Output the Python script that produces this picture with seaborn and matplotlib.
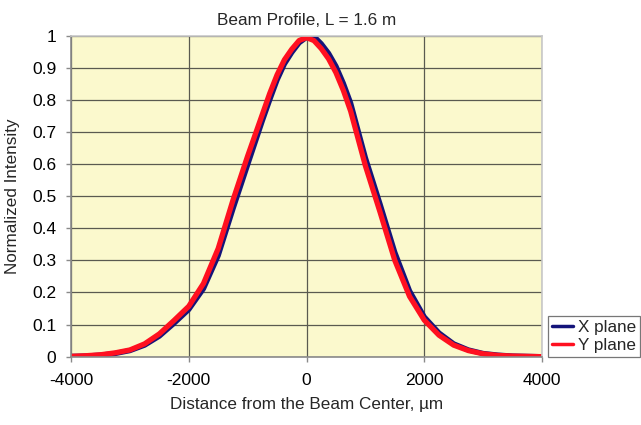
import matplotlib
matplotlib.use("Agg")
import matplotlib.pyplot as plt
import seaborn as sns
import pandas as pd

# distance from the beam center, um
distance = [-4000, -3750, -3500, -3250, -3000, -2750, -2500, -2250, -2000,
            -1750, -1500, -1250, -1000, -750, -625, -500, -375, -250, -125, 0, 125,
            250, 375, 500, 625, 750, 1000, 1250, 1500, 1750, 2000, 2250, 2500,
            2750, 3000, 3250, 3500, 3750, 4000]

x_plane = [0.001, 0.002, 0.005, 0.010, 0.019, 0.036, 0.064, 0.104, 0.147,
           0.212, 0.315, 0.460, 0.598, 0.735, 0.800, 0.862, 0.912, 0.948, 0.978, 0.995, 0.998,
           0.975, 0.945, 0.905, 0.852, 0.790, 0.620, 0.475, 0.325, 0.205, 0.124, 0.074, 0.040,
           0.021, 0.010, 0.005, 0.002, 0.001, 0.000]

y_plane = [0.001, 0.003, 0.006, 0.012, 0.021, 0.040, 0.071, 0.113, 0.157,
           0.228, 0.337, 0.487, 0.625, 0.755, 0.820, 0.878, 0.925, 0.958, 0.985, 0.994, 0.985,
           0.960, 0.928, 0.885, 0.830, 0.765, 0.595, 0.450, 0.300, 0.188, 0.114, 0.067, 0.036,
           0.019, 0.009, 0.004, 0.002, 0.001, 0.000]

series_names = ["X plane", "Y plane"]
colors = ["#14147a", "#ff1020"]

df = pd.concat([
    pd.DataFrame({"d": distance, "I": x_plane, "plane": series_names[0]}),
    pd.DataFrame({"d": distance, "I": y_plane, "plane": series_names[1]}),
])

sns.set_style("white")
plt.rcParams["font.family"] = ["Liberation Sans", "DejaVu Sans"]
plt.rcParams["axes.unicode_minus"] = False

fig = plt.figure(figsize=(6.41, 4.25), dpi=100)
ax = fig.add_axes([71 / 641, 1 - 356.7 / 425, (542 - 71) / 641, (356.7 - 35.7) / 425])
ax.set_facecolor("#fbf9cd")

sns.lineplot(data=df, x="d", y="I", hue="plane", palette=colors,
             linewidth=3.8, solid_joinstyle="round", solid_capstyle="round",
             ax=ax, legend=True)

ax.set_xlim(-4000, 4000)
ax.set_ylim(0, 1)
ax.set_xticks([-4000, -2000, 0, 2000, 4000])
ax.set_yticks([i / 10 for i in range(11)])
ax.set_yticklabels(["0", "0.1", "0.2", "0.3", "0.4", "0.5", "0.6", "0.7", "0.8", "0.9", "1"])
ax.grid(True, color="#5a5a50", linewidth=0.9)
ax.set_axisbelow(True)
for s in ["left", "bottom"]:
    ax.spines[s].set_color("#8a8a8a")
    ax.spines[s].set_linewidth(1.2)
for s in ["top", "right"]:
    ax.spines[s].set_color("#c8c8c8")
    ax.spines[s].set_linewidth(1.2)
ax.tick_params(axis="both", direction="out", length=3.5, width=1, color="#8a8a8a",
               labelsize=12.5, labelcolor="black", bottom=True, left=True)
ax.tick_params(axis="x", pad=8)
ax.tick_params(axis="y", pad=7)

ax.set_xlabel("Distance from the Beam Center, µm", fontsize=12.3, labelpad=7)
ax.set_ylabel("Normalized Intensity", fontsize=12.3, labelpad=9)
ax.set_title("Beam Profile, L = 1.6 m", fontsize=12.3, pad=8)

leg = ax.legend(handles=ax.get_legend_handles_labels()[0],
                labels=series_names, loc="lower left",
                bbox_to_anchor=(548 / 641, 1 - 357 / 425), bbox_transform=fig.transFigure,
                frameon=True, fancybox=False, fontsize=12.3, handlelength=1.2,
                handletextpad=0.3, borderpad=0.25, labelspacing=0.15, borderaxespad=0)
leg.get_frame().set_edgecolor("#555555")
leg.get_frame().set_linewidth(0.9)
for line in leg.get_lines():
    line.set_linewidth(2.5)

fig.savefig("out.png", dpi=100)
